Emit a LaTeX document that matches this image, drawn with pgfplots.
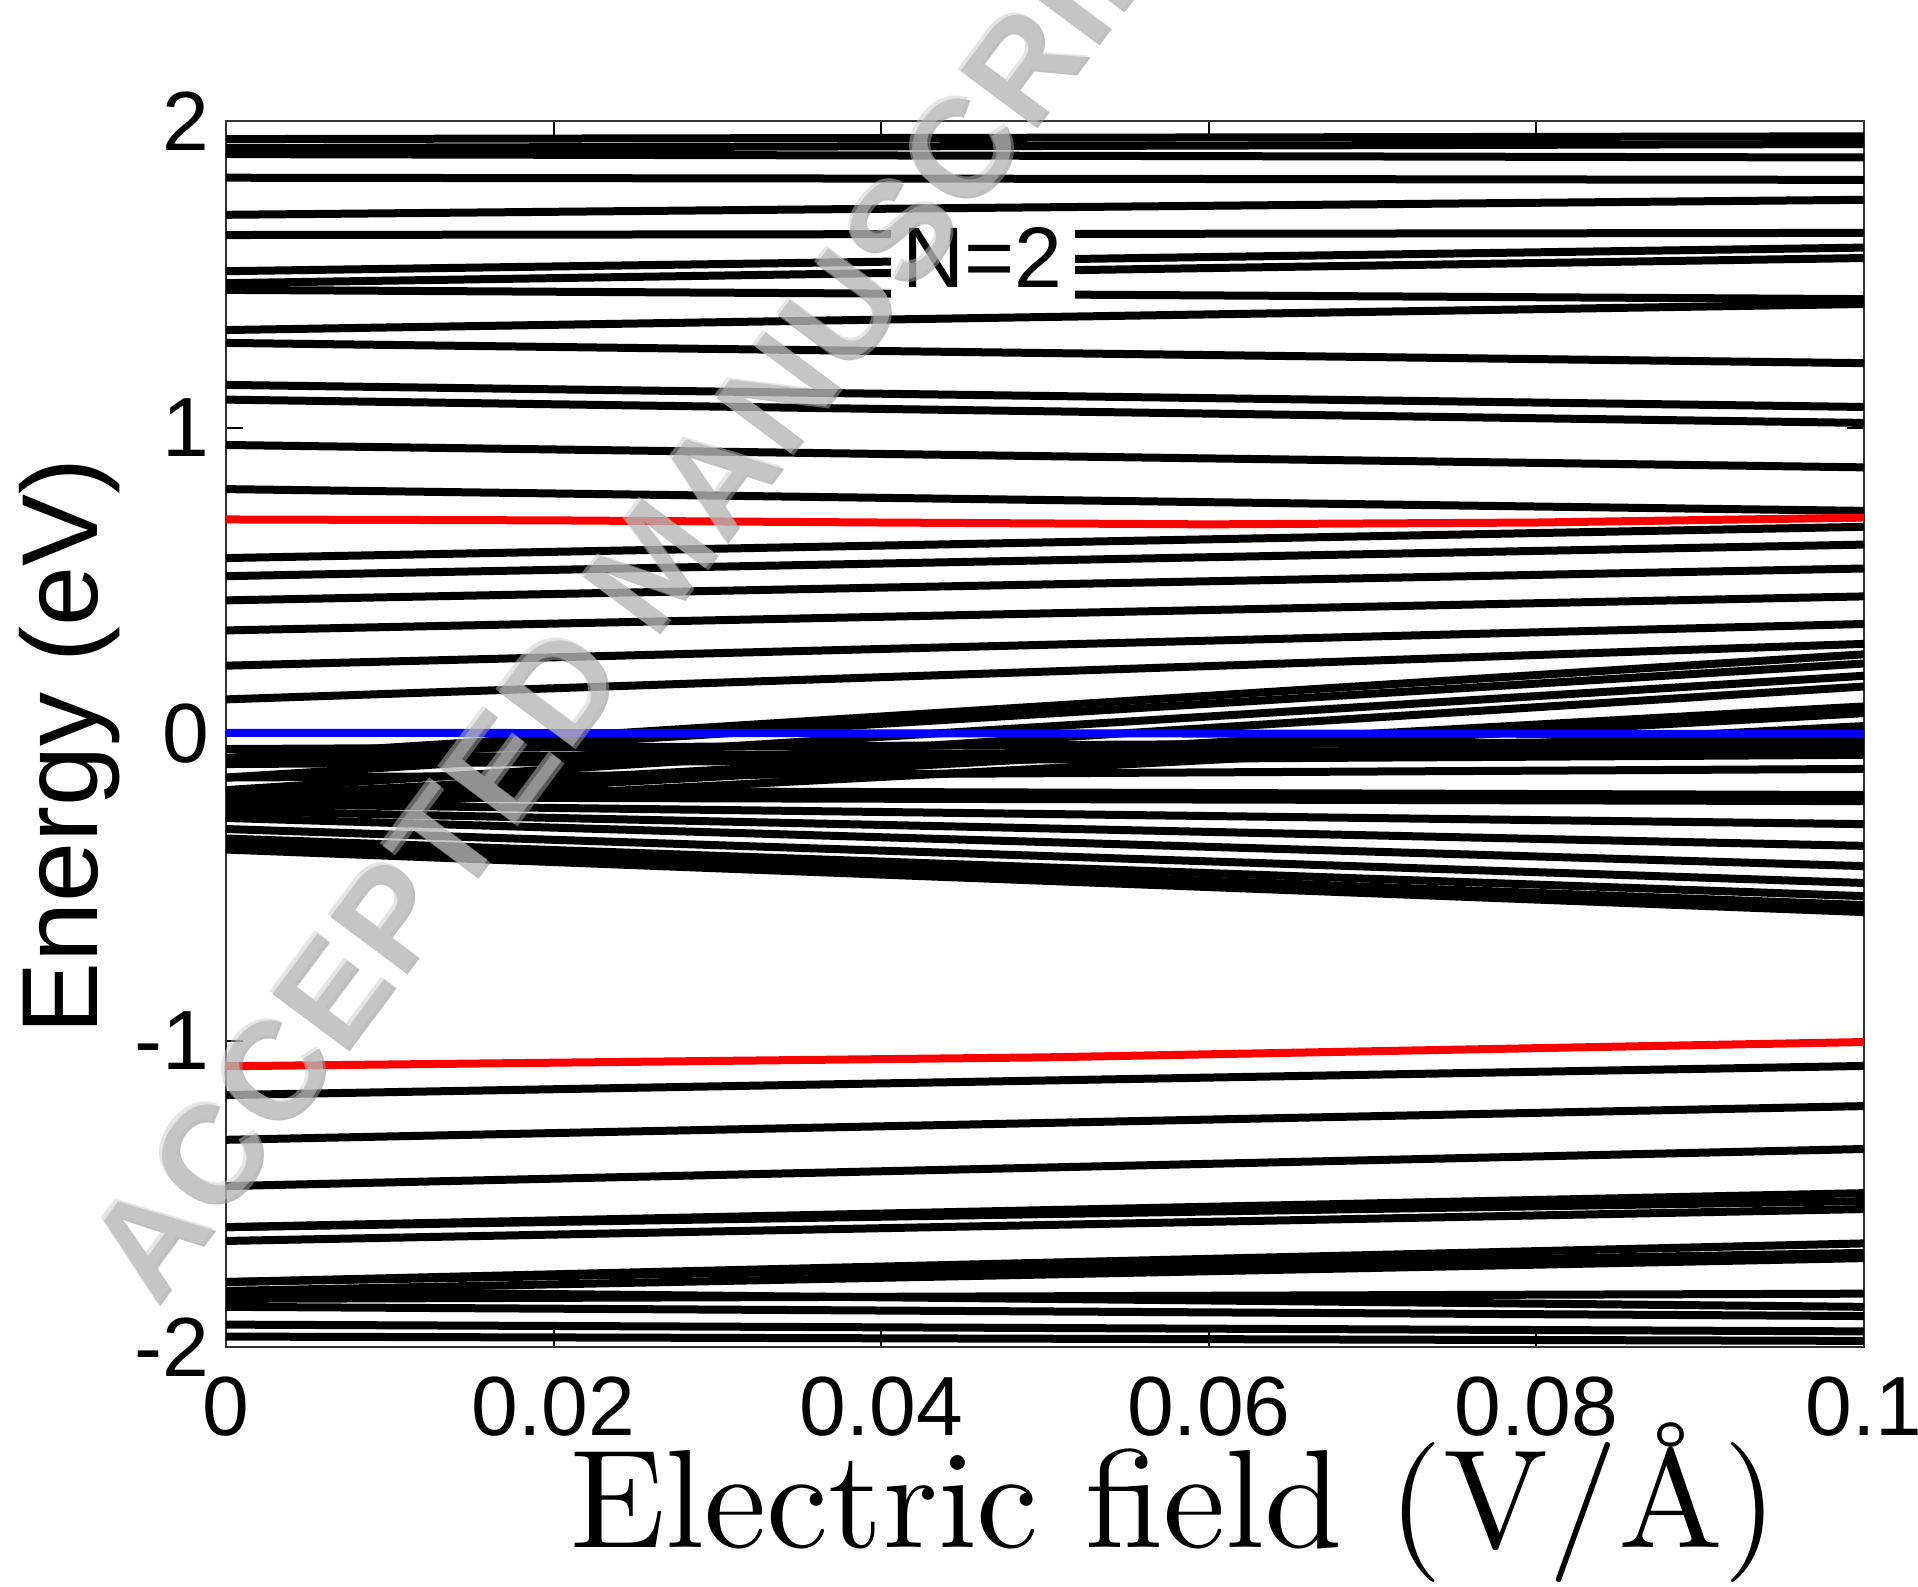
\documentclass[border=0pt]{standalone}
\usepackage{pgfplots}
\pgfplotsset{compat=1.18}
\usepackage{fontspec}
\setsansfont{Liberation Sans}
\newfontfamily\wmfont[LetterSpace=2]{Liberation Sans}
\newfontfamily\lmten{lmroman10-regular.otf}
\definecolor{wmgray}{gray}{0.58}
\definecolor{wmlight}{gray}{0.80}
\pgfplotsset{lv/.style={black, line width=2pt}}
\begin{document}
\begin{tikzpicture}
\begin{axis}[
  name=ax, at={(0,0)}, anchor=south west,
  width=409.5pt, height=306.5pt, scale only axis,
  xmin=0, xmax=0.1, ymin=-2, ymax=2,
  xtick={0,0.02,0.04,0.06,0.08,0.1},
  xticklabels={0,0.02,0.04,0.06,0.08,0.1},
  ytick={-2,-1,0,1,2},
  yticklabels={-2,-1,0,1,2},
  tick align=inside, major tick length=4.2pt,
  tick style={black, line width=0.5pt},
  axis line style={line width=0.6pt, black!80},
  ticklabel style={font=\sffamily\fontsize{21}{24}\selectfont, inner sep=0pt},
  xticklabel style={yshift=-7.25pt},
  yticklabel style={xshift=-4pt},
  ylabel={Energy (eV)},
  ylabel style={at={(axis description cs:-0.0952,0.49)}, anchor=center, font=\sffamily\fontsize{27}{30}\selectfont},
  xlabel={Electric field (V/Å)},
  xlabel style={at={(axis description cs:0.5788,0)}, anchor=base, yshift=-50pt, font=\lmten\fontsize{35}{40}\selectfont},
]
% upper levels
\addplot[lv] coordinates {(0,1.941) (0.1,1.950)};
\addplot[lv] coordinates {(0,1.912) (0.1,1.925)};
\addplot[lv] coordinates {(0,1.892) (0.1,1.881)};
\addplot[lv] coordinates {(0,1.815) (0.1,1.808)};
\addplot[lv] coordinates {(0,1.694) (0.1,1.743)};
\addplot[lv] coordinates {(0,1.628) (0.1,1.635)};
\addplot[lv] coordinates {(0,1.510) (0.1,1.587)};
\addplot[lv] coordinates {(0,1.471) (0.1,1.553)};
\addplot[lv] coordinates {(0,1.449) (0.1,1.419)};
\addplot[lv] coordinates {(0,1.318) (0.1,1.403)};
\addplot[lv] coordinates {(0,1.276) (0.1,1.210)};
\addplot[lv] coordinates {(0,1.139) (0.1,1.067)};
\addplot[lv] coordinates {(0,1.091) (0.1,1.015)};
\addplot[lv] coordinates {(0,0.943) (0.1,0.870)};
\addplot[lv] coordinates {(0,0.799) (0.1,0.728)};
% middle fan: rising levels
\addplot[lv] coordinates {(0,0.574) (0.1,0.676)};
\addplot[lv] coordinates {(0,0.515) (0.1,0.618)};
\addplot[lv] coordinates {(0,0.436) (0.1,0.540)};
\addplot[lv] coordinates {(0,0.338) (0.1,0.449)};
\addplot[lv] coordinates {(0,0.223) (0.1,0.359)};
\addplot[lv] coordinates {(0,0.113) (0.1,0.294)};
\addplot[lv] coordinates {(0,-0.078) (0.1,0.260)};
\addplot[lv] coordinates {(0,-0.098) (0.1,0.230)};
\addplot[lv] coordinates {(0,-0.142) (0.1,0.190)};
\addplot[lv] coordinates {(0,-0.183) (0.1,0.155)};
\addplot[lv] coordinates {(0,-0.206) (0.1,0.090)};
\addplot[lv] coordinates {(0,-0.228) (0.1,0.068)};
\addplot[lv] coordinates {(0,-0.251) (0.1,0.026)};
% middle fan: falling levels
\addplot[lv] coordinates {(0,-0.049) (0.1,-0.023)};
\addplot[lv] coordinates {(0,-0.078) (0.1,-0.046)};
\addplot[lv] coordinates {(0,-0.098) (0.1,-0.068)};
\addplot[lv] coordinates {(0,-0.142) (0.1,-0.114)};
\addplot[lv] coordinates {(0,-0.183) (0.1,-0.199)};
\addplot[lv] coordinates {(0,-0.206) (0.1,-0.219)};
\addplot[lv] coordinates {(0,-0.228) (0.1,-0.294)};
\addplot[lv] coordinates {(0,-0.251) (0.1,-0.365)};
\addplot[lv] coordinates {(0,-0.274) (0.1,-0.431)};
\addplot[lv] coordinates {(0,-0.310) (0.1,-0.486)};
\addplot[lv] coordinates {(0,-0.341) (0.1,-0.529)};
\addplot[lv] coordinates {(0,-0.360) (0.1,-0.558)};
\addplot[lv] coordinates {(0,-0.377) (0.1,-0.581)};
% lower levels
\addplot[lv] coordinates {(0,-1.178) (0.1,-1.083)};
\addplot[lv] coordinates {(0,-1.324) (0.1,-1.214)};
\addplot[lv] coordinates {(0,-1.475) (0.1,-1.354)};
\addplot[lv] coordinates {(0,-1.609) (0.1,-1.498)};
\addplot[lv] coordinates {(0,-1.609) (0.1,-1.524)};
\addplot[lv] coordinates {(0,-1.654) (0.1,-1.550)};
\addplot[lv] coordinates {(0,-1.788) (0.1,-1.662)};
\addplot[lv] coordinates {(0,-1.788) (0.1,-1.693)};
\addplot[lv] coordinates {(0,-1.817) (0.1,-1.710)};
\addplot[lv] coordinates {(0,-1.843) (0.1,-1.826)};
\addplot[lv] coordinates {(0,-1.817) (0.1,-1.869)};
\addplot[lv] coordinates {(0,-1.869) (0.1,-1.899)};
\addplot[lv] coordinates {(0,-1.927) (0.1,-1.949)};
\addplot[lv] coordinates {(0,-1.966) (0.1,-1.980)};
% highlighted levels
\addplot[red, line width=2pt] coordinates {(0,0.700) (0.02,0.697) (0.04,0.690) (0.06,0.684) (0.08,0.690) (0.1,0.706)};
\addplot[red, line width=2pt] coordinates {(0,-1.084) (0.05,-1.055) (0.1,-1.005)};
\addplot[blue, line width=2pt] coordinates {(0,0.004) (0.1,0.000)};
\node[fill=white, inner xsep=3pt, inner ysep=3.5pt, font=\sffamily\fontsize{21.5}{24}\selectfont] at (axis cs:0.0462,1.555) {N=2};
\end{axis}
\node[rotate=53.3, text=wmgray, text opacity=0.6, font=\wmfont\bfseries\fontsize{35}{38}\selectfont] at (107.2pt,196pt) {ACCEPTED MANUSCRIPT};
\node[rotate=53.3, text=wmlight, text opacity=0.5, font=\wmfont\bfseries\fontsize{35}{38}\selectfont] at (106.5pt,196.7pt) {ACCEPTED MANUSCRIPT};
\pgfresetboundingbox
\useasboundingbox (-56.5pt,-59.75pt) rectangle (423pt,336.75pt);
\end{tikzpicture}
\end{document}
